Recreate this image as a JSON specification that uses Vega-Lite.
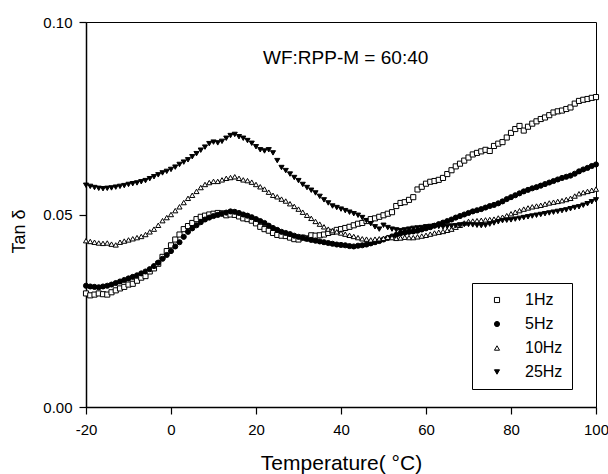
{
  "$schema": "https://vega.github.io/schema/vega-lite/v6.json",
  "width": 510,
  "height": 385,
  "autosize": {"type": "none"},
  "padding": {"left": 86, "top": 22, "right": 12, "bottom": 67},
  "background": "white",
  "config": {
    "font": "Liberation Sans",
    "view": {"stroke": "black", "strokeWidth": 1},
    "axis": {
      "grid": false,
      "domainColor": "black",
      "domainWidth": 1.5,
      "tickColor": "black",
      "tickSize": 7,
      "tickWidth": 1.2,
      "labelColor": "black",
      "labelFontSize": 15,
      "labelFont": "Liberation Sans",
      "labelFlush": false,
      "labelOverlap": false,
      "titleColor": "black",
      "titleFont": "Liberation Sans",
      "titleFontWeight": "normal"
    }
  },
  "layer": [
    {
      "data": {
        "values": [
          {"T": -20, "1Hz": 0.0295, "5Hz": 0.0315, "10Hz": 0.0432, "25Hz": 0.0576},
          {"T": -19, "1Hz": 0.0290, "5Hz": 0.0313, "10Hz": 0.0430, "25Hz": 0.0573},
          {"T": -18, "1Hz": 0.0292, "5Hz": 0.0312, "10Hz": 0.0428, "25Hz": 0.0570},
          {"T": -17, "1Hz": 0.0295, "5Hz": 0.0311, "10Hz": 0.0426, "25Hz": 0.0568},
          {"T": -16, "1Hz": 0.0293, "5Hz": 0.0313, "10Hz": 0.0425, "25Hz": 0.0567},
          {"T": -15, "1Hz": 0.0292, "5Hz": 0.0315, "10Hz": 0.0426, "25Hz": 0.0568},
          {"T": -14, "1Hz": 0.0298, "5Hz": 0.0318, "10Hz": 0.0423, "25Hz": 0.0569},
          {"T": -13, "1Hz": 0.0303, "5Hz": 0.0322, "10Hz": 0.0421, "25Hz": 0.0571},
          {"T": -12, "1Hz": 0.0308, "5Hz": 0.0326, "10Hz": 0.0428, "25Hz": 0.0573},
          {"T": -11, "1Hz": 0.0312, "5Hz": 0.0330, "10Hz": 0.0431, "25Hz": 0.0575},
          {"T": -10, "1Hz": 0.0318, "5Hz": 0.0334, "10Hz": 0.0434, "25Hz": 0.0578},
          {"T": -9, "1Hz": 0.0320, "5Hz": 0.0338, "10Hz": 0.0437, "25Hz": 0.0580},
          {"T": -8, "1Hz": 0.0328, "5Hz": 0.0342, "10Hz": 0.0440, "25Hz": 0.0582},
          {"T": -7, "1Hz": 0.0336, "5Hz": 0.0347, "10Hz": 0.0443, "25Hz": 0.0585},
          {"T": -6, "1Hz": 0.0340, "5Hz": 0.0352, "10Hz": 0.0448, "25Hz": 0.0588},
          {"T": -5, "1Hz": 0.0352, "5Hz": 0.0358, "10Hz": 0.0455, "25Hz": 0.0593},
          {"T": -4, "1Hz": 0.0360, "5Hz": 0.0366, "10Hz": 0.0462, "25Hz": 0.0598},
          {"T": -3, "1Hz": 0.0372, "5Hz": 0.0375, "10Hz": 0.0472, "25Hz": 0.0603},
          {"T": -2, "1Hz": 0.0390, "5Hz": 0.0385, "10Hz": 0.0484, "25Hz": 0.0608},
          {"T": -1, "1Hz": 0.0405, "5Hz": 0.0395, "10Hz": 0.0492, "25Hz": 0.0612},
          {"T": 0, "1Hz": 0.0420, "5Hz": 0.0405, "10Hz": 0.0500, "25Hz": 0.0617},
          {"T": 1, "1Hz": 0.0435, "5Hz": 0.0417, "10Hz": 0.0510, "25Hz": 0.0623},
          {"T": 2, "1Hz": 0.0448, "5Hz": 0.0428, "10Hz": 0.0520, "25Hz": 0.0630},
          {"T": 3, "1Hz": 0.0462, "5Hz": 0.0442, "10Hz": 0.0531, "25Hz": 0.0636},
          {"T": 4, "1Hz": 0.0470, "5Hz": 0.0455, "10Hz": 0.0542, "25Hz": 0.0642},
          {"T": 5, "1Hz": 0.0478, "5Hz": 0.0464, "10Hz": 0.0550, "25Hz": 0.0650},
          {"T": 6, "1Hz": 0.0488, "5Hz": 0.0472, "10Hz": 0.0560, "25Hz": 0.0658},
          {"T": 7, "1Hz": 0.0494, "5Hz": 0.0480, "10Hz": 0.0570, "25Hz": 0.0667},
          {"T": 8, "1Hz": 0.0497, "5Hz": 0.0487, "10Hz": 0.0578, "25Hz": 0.0675},
          {"T": 9, "1Hz": 0.0500, "5Hz": 0.0492, "10Hz": 0.0583, "25Hz": 0.0684},
          {"T": 10, "1Hz": 0.0502, "5Hz": 0.0496, "10Hz": 0.0586, "25Hz": 0.0688},
          {"T": 11, "1Hz": 0.0504, "5Hz": 0.0499, "10Hz": 0.0586, "25Hz": 0.0686},
          {"T": 12, "1Hz": 0.0503, "5Hz": 0.0502, "10Hz": 0.0590, "25Hz": 0.0690},
          {"T": 13, "1Hz": 0.0498, "5Hz": 0.0505, "10Hz": 0.0594, "25Hz": 0.0698},
          {"T": 14, "1Hz": 0.0500, "5Hz": 0.0508, "10Hz": 0.0596, "25Hz": 0.0705},
          {"T": 15, "1Hz": 0.0499, "5Hz": 0.0507, "10Hz": 0.0598, "25Hz": 0.0708},
          {"T": 16, "1Hz": 0.0495, "5Hz": 0.0504, "10Hz": 0.0594, "25Hz": 0.0702},
          {"T": 17, "1Hz": 0.0490, "5Hz": 0.0500, "10Hz": 0.0590, "25Hz": 0.0698},
          {"T": 18, "1Hz": 0.0488, "5Hz": 0.0497, "10Hz": 0.0588, "25Hz": 0.0692},
          {"T": 19, "1Hz": 0.0484, "5Hz": 0.0493, "10Hz": 0.0584, "25Hz": 0.0685},
          {"T": 20, "1Hz": 0.0477, "5Hz": 0.0488, "10Hz": 0.0578, "25Hz": 0.0676},
          {"T": 21, "1Hz": 0.0468, "5Hz": 0.0483, "10Hz": 0.0572, "25Hz": 0.0668},
          {"T": 22, "1Hz": 0.0462, "5Hz": 0.0478, "10Hz": 0.0566, "25Hz": 0.0665},
          {"T": 23, "1Hz": 0.0458, "5Hz": 0.0471, "10Hz": 0.0558, "25Hz": 0.0668},
          {"T": 24, "1Hz": 0.0452, "5Hz": 0.0465, "10Hz": 0.0550, "25Hz": 0.0660},
          {"T": 25, "1Hz": 0.0447, "5Hz": 0.0460, "10Hz": 0.0546, "25Hz": 0.0640},
          {"T": 26, "1Hz": 0.0445, "5Hz": 0.0455, "10Hz": 0.0540, "25Hz": 0.0622},
          {"T": 27, "1Hz": 0.0444, "5Hz": 0.0452, "10Hz": 0.0535, "25Hz": 0.0614},
          {"T": 28, "1Hz": 0.0440, "5Hz": 0.0449, "10Hz": 0.0528, "25Hz": 0.0605},
          {"T": 29, "1Hz": 0.0436, "5Hz": 0.0445, "10Hz": 0.0521, "25Hz": 0.0596},
          {"T": 30, "1Hz": 0.0435, "5Hz": 0.0442, "10Hz": 0.0514, "25Hz": 0.0588},
          {"T": 31, "1Hz": 0.0440, "5Hz": 0.0440, "10Hz": 0.0506, "25Hz": 0.0578},
          {"T": 32, "1Hz": 0.0438, "5Hz": 0.0437, "10Hz": 0.0498, "25Hz": 0.0570},
          {"T": 33, "1Hz": 0.0446, "5Hz": 0.0434, "10Hz": 0.0490, "25Hz": 0.0563},
          {"T": 34, "1Hz": 0.0445, "5Hz": 0.0432, "10Hz": 0.0482, "25Hz": 0.0556},
          {"T": 35, "1Hz": 0.0446, "5Hz": 0.0430, "10Hz": 0.0475, "25Hz": 0.0547},
          {"T": 36, "1Hz": 0.0448, "5Hz": 0.0428, "10Hz": 0.0468, "25Hz": 0.0538},
          {"T": 37, "1Hz": 0.0452, "5Hz": 0.0426, "10Hz": 0.0462, "25Hz": 0.0530},
          {"T": 38, "1Hz": 0.0455, "5Hz": 0.0424, "10Hz": 0.0458, "25Hz": 0.0522},
          {"T": 39, "1Hz": 0.0460, "5Hz": 0.0422, "10Hz": 0.0455, "25Hz": 0.0518},
          {"T": 40, "1Hz": 0.0462, "5Hz": 0.0421, "10Hz": 0.0452, "25Hz": 0.0514},
          {"T": 41, "1Hz": 0.0465, "5Hz": 0.0420, "10Hz": 0.0449, "25Hz": 0.0510},
          {"T": 42, "1Hz": 0.0468, "5Hz": 0.0418, "10Hz": 0.0446, "25Hz": 0.0506},
          {"T": 43, "1Hz": 0.0472, "5Hz": 0.0417, "10Hz": 0.0443, "25Hz": 0.0502},
          {"T": 44, "1Hz": 0.0476, "5Hz": 0.0419, "10Hz": 0.0440, "25Hz": 0.0498},
          {"T": 45, "1Hz": 0.0478, "5Hz": 0.0420, "10Hz": 0.0437, "25Hz": 0.0492},
          {"T": 46, "1Hz": 0.0483, "5Hz": 0.0422, "10Hz": 0.0436, "25Hz": 0.0484},
          {"T": 47, "1Hz": 0.0488, "5Hz": 0.0425, "10Hz": 0.0434, "25Hz": 0.0476},
          {"T": 48, "1Hz": 0.0490, "5Hz": 0.0428, "10Hz": 0.0436, "25Hz": 0.0468},
          {"T": 49, "1Hz": 0.0494, "5Hz": 0.0431, "10Hz": 0.0437, "25Hz": 0.0462},
          {"T": 50, "1Hz": 0.0498, "5Hz": 0.0435, "10Hz": 0.0438, "25Hz": 0.0472},
          {"T": 51, "1Hz": 0.0502, "5Hz": 0.0439, "10Hz": 0.0441, "25Hz": 0.0466},
          {"T": 52, "1Hz": 0.0506, "5Hz": 0.0443, "10Hz": 0.0440, "25Hz": 0.0462},
          {"T": 53, "1Hz": 0.0522, "5Hz": 0.0447, "10Hz": 0.0438, "25Hz": 0.0460},
          {"T": 54, "1Hz": 0.0530, "5Hz": 0.0451, "10Hz": 0.0439, "25Hz": 0.0458},
          {"T": 55, "1Hz": 0.0532, "5Hz": 0.0453, "10Hz": 0.0441, "25Hz": 0.0460},
          {"T": 56, "1Hz": 0.0538, "5Hz": 0.0455, "10Hz": 0.0440, "25Hz": 0.0462},
          {"T": 57, "1Hz": 0.0545, "5Hz": 0.0456, "10Hz": 0.0440, "25Hz": 0.0464},
          {"T": 58, "1Hz": 0.0565, "5Hz": 0.0458, "10Hz": 0.0442, "25Hz": 0.0465},
          {"T": 59, "1Hz": 0.0572, "5Hz": 0.0461, "10Hz": 0.0444, "25Hz": 0.0466},
          {"T": 60, "1Hz": 0.0580, "5Hz": 0.0464, "10Hz": 0.0446, "25Hz": 0.0468},
          {"T": 61, "1Hz": 0.0585, "5Hz": 0.0467, "10Hz": 0.0449, "25Hz": 0.0469},
          {"T": 62, "1Hz": 0.0587, "5Hz": 0.0471, "10Hz": 0.0452, "25Hz": 0.0470},
          {"T": 63, "1Hz": 0.0590, "5Hz": 0.0475, "10Hz": 0.0454, "25Hz": 0.0469},
          {"T": 64, "1Hz": 0.0595, "5Hz": 0.0479, "10Hz": 0.0456, "25Hz": 0.0468},
          {"T": 65, "1Hz": 0.0605, "5Hz": 0.0483, "10Hz": 0.0459, "25Hz": 0.0469},
          {"T": 66, "1Hz": 0.0615, "5Hz": 0.0487, "10Hz": 0.0462, "25Hz": 0.0470},
          {"T": 67, "1Hz": 0.0625, "5Hz": 0.0492, "10Hz": 0.0467, "25Hz": 0.0471},
          {"T": 68, "1Hz": 0.0632, "5Hz": 0.0496, "10Hz": 0.0472, "25Hz": 0.0473},
          {"T": 69, "1Hz": 0.0640, "5Hz": 0.0500, "10Hz": 0.0478, "25Hz": 0.0474},
          {"T": 70, "1Hz": 0.0648, "5Hz": 0.0504, "10Hz": 0.0482, "25Hz": 0.0474},
          {"T": 71, "1Hz": 0.0656, "5Hz": 0.0508, "10Hz": 0.0483, "25Hz": 0.0473},
          {"T": 72, "1Hz": 0.0660, "5Hz": 0.0511, "10Hz": 0.0484, "25Hz": 0.0472},
          {"T": 73, "1Hz": 0.0664, "5Hz": 0.0514, "10Hz": 0.0485, "25Hz": 0.0471},
          {"T": 74, "1Hz": 0.0668, "5Hz": 0.0518, "10Hz": 0.0486, "25Hz": 0.0472},
          {"T": 75, "1Hz": 0.0665, "5Hz": 0.0522, "10Hz": 0.0487, "25Hz": 0.0475},
          {"T": 76, "1Hz": 0.0678, "5Hz": 0.0525, "10Hz": 0.0488, "25Hz": 0.0478},
          {"T": 77, "1Hz": 0.0684, "5Hz": 0.0529, "10Hz": 0.0491, "25Hz": 0.0481},
          {"T": 78, "1Hz": 0.0688, "5Hz": 0.0534, "10Hz": 0.0493, "25Hz": 0.0484},
          {"T": 79, "1Hz": 0.0700, "5Hz": 0.0540, "10Hz": 0.0497, "25Hz": 0.0485},
          {"T": 80, "1Hz": 0.0712, "5Hz": 0.0545, "10Hz": 0.0502, "25Hz": 0.0486},
          {"T": 81, "1Hz": 0.0722, "5Hz": 0.0550, "10Hz": 0.0506, "25Hz": 0.0488},
          {"T": 82, "1Hz": 0.0730, "5Hz": 0.0555, "10Hz": 0.0510, "25Hz": 0.0490},
          {"T": 83, "1Hz": 0.0718, "5Hz": 0.0560, "10Hz": 0.0514, "25Hz": 0.0492},
          {"T": 84, "1Hz": 0.0728, "5Hz": 0.0564, "10Hz": 0.0517, "25Hz": 0.0494},
          {"T": 85, "1Hz": 0.0736, "5Hz": 0.0568, "10Hz": 0.0520, "25Hz": 0.0496},
          {"T": 86, "1Hz": 0.0742, "5Hz": 0.0571, "10Hz": 0.0522, "25Hz": 0.0498},
          {"T": 87, "1Hz": 0.0748, "5Hz": 0.0575, "10Hz": 0.0524, "25Hz": 0.0500},
          {"T": 88, "1Hz": 0.0752, "5Hz": 0.0579, "10Hz": 0.0527, "25Hz": 0.0502},
          {"T": 89, "1Hz": 0.0758, "5Hz": 0.0583, "10Hz": 0.0530, "25Hz": 0.0504},
          {"T": 90, "1Hz": 0.0765, "5Hz": 0.0587, "10Hz": 0.0532, "25Hz": 0.0506},
          {"T": 91, "1Hz": 0.0768, "5Hz": 0.0591, "10Hz": 0.0534, "25Hz": 0.0508},
          {"T": 92, "1Hz": 0.0770, "5Hz": 0.0595, "10Hz": 0.0536, "25Hz": 0.0510},
          {"T": 93, "1Hz": 0.0774, "5Hz": 0.0598, "10Hz": 0.0539, "25Hz": 0.0512},
          {"T": 94, "1Hz": 0.0778, "5Hz": 0.0601, "10Hz": 0.0542, "25Hz": 0.0515},
          {"T": 95, "1Hz": 0.0788, "5Hz": 0.0606, "10Hz": 0.0548, "25Hz": 0.0518},
          {"T": 96, "1Hz": 0.0795, "5Hz": 0.0612, "10Hz": 0.0554, "25Hz": 0.0520},
          {"T": 97, "1Hz": 0.0798, "5Hz": 0.0617, "10Hz": 0.0557, "25Hz": 0.0524},
          {"T": 98, "1Hz": 0.0800, "5Hz": 0.0621, "10Hz": 0.0560, "25Hz": 0.0528},
          {"T": 99, "1Hz": 0.0803, "5Hz": 0.0626, "10Hz": 0.0563, "25Hz": 0.0533},
          {"T": 100, "1Hz": 0.0805, "5Hz": 0.0630, "10Hz": 0.0566, "25Hz": 0.0538}
        ]
      },
      "transform": [{"fold": ["1Hz", "5Hz", "10Hz", "25Hz"], "as": ["series", "tan"]}],
      "mark": {"type": "point", "filled": true, "strokeWidth": 1, "size": 26, "opacity": 1},
      "encoding": {
        "x": {
          "field": "T", "type": "quantitative",
          "scale": {"domain": [-20, 100], "nice": false, "zero": false},
          "axis": {"values": [-20, 0, 20, 40, 60, 80, 100], "labelExpr": "replace(datum.label, '−', '-')", "title": "Temperature( °C)", "titleFontSize": 21, "labelPadding": 8, "titlePadding": 15}
        },
        "y": {
          "field": "tan", "type": "quantitative",
          "scale": {"domain": [0, 0.1], "nice": false},
          "axis": {"values": [0, 0.05, 0.1], "format": ".2f", "title": "Tan δ", "titleFontSize": 18, "titleY": 209, "labelPadding": 7, "titlePadding": 14}
        },
        "shape": {
          "field": "series", "type": "nominal",
          "scale": {"domain": ["1Hz", "5Hz", "10Hz", "25Hz"], "range": ["square", "circle", "triangle-up", "triangle-down"]},
          "legend": {"title": null, "orient": "none", "legendX": 386, "legendY": 261, "strokeColor": "black", "fillColor": "white", "padding": 9, "symbolOffset": 8, "labelOffset": 20, "labelExpr": "length(datum.label) < 4 ? '\u2007' + datum.label : datum.label", "labelFontSize": 16, "labelColor": "black", "symbolSize": 26, "symbolStrokeWidth": 1, "rowPadding": 8}
        },
        "fill": {
          "field": "series", "type": "nominal",
          "scale": {"domain": ["1Hz", "5Hz", "10Hz", "25Hz"], "range": ["white", "black", "white", "black"]},
          "legend": {"title": null, "orient": "none", "legendX": 386, "legendY": 261, "strokeColor": "black", "fillColor": "white", "padding": 9, "symbolOffset": 8, "labelOffset": 20, "labelExpr": "length(datum.label) < 4 ? '\u2007' + datum.label : datum.label", "labelFontSize": 16, "labelColor": "black", "symbolSize": 26, "symbolStrokeWidth": 1, "rowPadding": 8}
        },
        "stroke": {
          "field": "series", "type": "nominal",
          "scale": {"domain": ["1Hz", "5Hz", "10Hz", "25Hz"], "range": ["black", "black", "black", "black"]},
          "legend": {"title": null, "orient": "none", "legendX": 386, "legendY": 261, "strokeColor": "black", "fillColor": "white", "padding": 9, "symbolOffset": 8, "labelOffset": 20, "labelExpr": "length(datum.label) < 4 ? '\u2007' + datum.label : datum.label", "labelFontSize": 16, "labelColor": "black", "symbolSize": 26, "symbolStrokeWidth": 1, "rowPadding": 8}
        }
      }
    },
    {
      "data": {"values": [{"T": 41.1, "v": 0.0906, "label": "WF:RPP-M = 60:40"}]},
      "mark": {"type": "text", "fontSize": 19, "font": "Liberation Sans", "color": "black"},
      "encoding": {
        "x": {"field": "T", "type": "quantitative"},
        "y": {"field": "v", "type": "quantitative"},
        "text": {"field": "label"}
      }
    }
  ]
}
